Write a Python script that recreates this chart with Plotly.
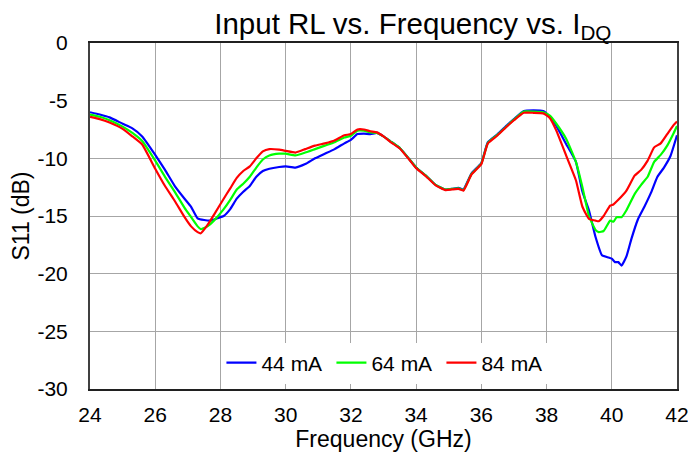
import plotly.graph_objects as go

# 44 mA
freq_44 = [24.0, 24.3, 24.6, 25.0, 25.3, 25.6, 26.0, 26.3, 26.6, 26.9, 27.1, 27.3, 27.5, 27.7, 27.9,
           28.1, 28.3, 28.5, 28.7, 28.9, 29.1, 29.3, 29.5, 29.8, 30.0, 30.3, 30.6, 30.9, 31.2, 31.5,
           31.8, 32.0, 32.2, 32.4, 32.6, 32.8, 33.0, 33.2, 33.5, 33.8, 34.0, 34.3, 34.6, 34.9, 35.1,
           35.3, 35.45, 35.7, 36.0, 36.2, 36.5, 36.8, 37.0, 37.3, 37.6, 37.9, 38.1, 38.3, 38.6, 38.9,
           39.1, 39.3, 39.5, 39.7, 39.9, 40.0, 40.1, 40.2, 40.3, 40.45, 40.6, 40.8, 41.0, 41.2, 41.4,
           41.6, 41.8, 42.0]
s11_44 = [-6.0, -6.2, -6.45, -7.0, -7.4, -8.1, -9.7, -11.0, -12.4, -13.5, -14.2, -15.2, -15.35, -15.4, -15.2,
          -15.0, -14.4, -13.5, -12.9, -12.4, -11.6, -11.1, -10.9, -10.75, -10.7, -10.8, -10.5, -10.0, -9.6, -9.2,
          -8.7, -8.4, -7.9, -7.85, -7.9, -7.8, -8.1, -8.5, -9.1, -10.1, -10.8, -11.5, -12.3, -12.7, -12.65,
          -12.55, -12.7, -11.3, -10.4, -8.6, -7.9, -7.1, -6.6, -5.9, -5.85, -5.9, -6.4, -7.2, -8.75, -10.3,
          -12.9, -14.5, -16.8, -18.4, -18.6, -18.7, -19.0, -19.0, -19.3, -18.5, -17.0, -15.3, -14.2, -13.0, -11.6,
          -10.8, -9.8, -8.0]

# 64 mA
freq_64 = [24.0, 24.3, 24.6, 25.0, 25.3, 25.6, 26.0, 26.3, 26.6, 26.9, 27.1, 27.3, 27.4, 27.6, 27.8,
           28.1, 28.3, 28.5, 28.7, 28.9, 29.1, 29.3, 29.5, 29.8, 30.0, 30.3, 30.6, 30.9, 31.2, 31.5,
           31.8, 32.0, 32.2, 32.4, 32.6, 32.8, 33.0, 33.2, 33.5, 33.8, 34.0, 34.3, 34.6, 34.9, 35.1,
           35.3, 35.45, 35.7, 36.0, 36.2, 36.5, 36.8, 37.0, 37.3, 37.6, 37.9, 38.1, 38.3, 38.6, 38.9,
           39.1, 39.3, 39.5, 39.6, 39.75, 39.95, 40.05, 40.15, 40.3, 40.45, 40.7, 40.9, 41.1, 41.3, 41.5,
           41.7, 41.9, 42.0]
s11_64 = [-6.2, -6.4, -6.7, -7.25, -7.8, -8.5, -10.2, -11.6, -12.9, -14.3, -15.1, -15.9, -16.15, -15.9, -15.4,
          -14.4, -13.6, -12.7, -12.2, -11.6, -10.8, -10.1, -9.75, -9.6, -9.6, -9.75, -9.5, -9.2, -8.9, -8.6,
          -8.2, -8.05, -7.6, -7.6, -7.75, -7.8, -8.1, -8.5, -9.1, -10.1, -10.8, -11.5, -12.3, -12.7, -12.65,
          -12.6, -12.75, -11.35, -10.45, -8.65, -7.95, -7.15, -6.65, -5.95, -5.95, -6.0, -6.3, -7.0, -8.3, -10.3,
          -12.5, -15.0, -16.2, -16.4, -16.3, -15.4, -15.5, -15.1, -15.1, -14.5, -13.1, -12.3, -11.6, -10.3, -9.7,
          -8.9, -7.8, -7.2]

# 84 mA
freq_84 = [24.0, 24.3, 24.6, 25.0, 25.3, 25.6, 26.0, 26.3, 26.6, 26.9, 27.1, 27.3, 27.4, 27.6, 27.8,
           28.1, 28.3, 28.5, 28.7, 28.9, 29.1, 29.3, 29.5, 29.8, 30.0, 30.3, 30.6, 30.9, 31.2, 31.5,
           31.8, 32.0, 32.2, 32.4, 32.6, 32.8, 33.0, 33.2, 33.5, 33.8, 34.0, 34.3, 34.6, 34.9, 35.1,
           35.3, 35.45, 35.7, 36.0, 36.2, 36.5, 36.8, 37.0, 37.3, 37.6, 37.9, 38.1, 38.3, 38.6, 38.9,
           39.1, 39.3, 39.5, 39.6, 39.75, 39.95, 40.05, 40.2, 40.45, 40.7, 40.9, 41.1, 41.3, 41.5, 41.7,
           41.9, 42.0]
s11_84 = [-6.4, -6.6, -6.9, -7.45, -8.1, -8.8, -10.9, -12.4, -13.7, -15.1, -15.9, -16.4, -16.5, -15.8, -14.9,
          -13.5, -12.6, -11.7, -11.1, -10.7, -10.0, -9.4, -9.2, -9.25, -9.35, -9.5, -9.2, -8.9, -8.7, -8.45,
          -8.0, -7.9, -7.5, -7.5, -7.65, -7.75, -8.1, -8.55, -9.15, -10.15, -10.85, -11.55, -12.35, -12.75, -12.7,
          -12.65, -12.8, -11.4, -10.5, -8.7, -8.0, -7.2, -6.7, -6.05, -6.05, -6.1, -6.5, -7.6, -9.75, -11.9,
          -14.2, -15.25, -15.4, -15.45, -15.0, -14.1, -14.0, -13.6, -12.8, -11.5, -11.0, -10.2, -9.05, -8.7, -7.9,
          -7.1, -6.8]

series_names = ["44 mA", "64 mA", "84 mA"]
series_colors = ["#0000FF", "#00FF00", "#FF0000"]

x_ticks = [24, 26, 28, 30, 32, 34, 36, 38, 40, 42]
y_ticks = [0, -5, -10, -15, -20, -25, -30]

fig = go.Figure()
for f, s, n, c in zip([freq_44, freq_64, freq_84], [s11_44, s11_64, s11_84], series_names, series_colors):
    fig.add_trace(go.Scatter(x=f, y=s, mode="lines", name=n,
                             line=dict(color=c, width=2.2, shape="spline", smoothing=0.4)))

font_family = "Liberation Sans, Arial, sans-serif"
fig.update_layout(
    width=688, height=455,
    margin=dict(l=90, r=11, t=43, b=66, autoexpand=False),
    paper_bgcolor="white", plot_bgcolor="white",
    font=dict(family=font_family, size=21, color="black"),
    title=dict(text="Input RL vs. Frequency vs. I<sub>DQ</sub>", x=0.6, xanchor="center",
               xref="container", yref="container",
               y=0.948, yanchor="middle", font=dict(size=29.5, color="black")),
    showlegend=True,
    legend=dict(orientation="h", x=0.505, xanchor="center", y=0.075, yanchor="middle",
                bgcolor="white", font=dict(size=21), entrywidth=65, entrywidthmode="pixels",
                itemwidth=30),
    xaxis=dict(range=[24, 42], tickvals=x_ticks, ticktext=[str(v) for v in x_ticks],
               showgrid=True, gridcolor="#A6A6A6", gridwidth=1, zeroline=False, automargin=False,
               showline=True, linecolor="#202020", linewidth=2, mirror=True,
               ticks="outside", ticklen=6, tickcolor="rgba(0,0,0,0)", ticklabeloverflow="allow",
               title=dict(text="Frequency (GHz)", font=dict(size=23), standoff=5),
               tickfont=dict(size=21)),
    yaxis=dict(range=[-30, 0], tickvals=y_ticks, ticktext=[str(v) for v in y_ticks],
               showgrid=True, gridcolor="#A6A6A6", gridwidth=1, zeroline=False, automargin=False,
               showline=True, linecolor="#404040", linewidth=2, mirror=True,
               ticks="outside", ticklen=16, tickcolor="rgba(0,0,0,0)", ticklabeloverflow="allow",
               title=dict(text="S11 (dB)", font=dict(size=23), standoff=1),
               tickfont=dict(size=21)),
)

fig.write_html("out.html", config={"displayModeBar": False},
               post_script="document.body.style.margin='0';")
